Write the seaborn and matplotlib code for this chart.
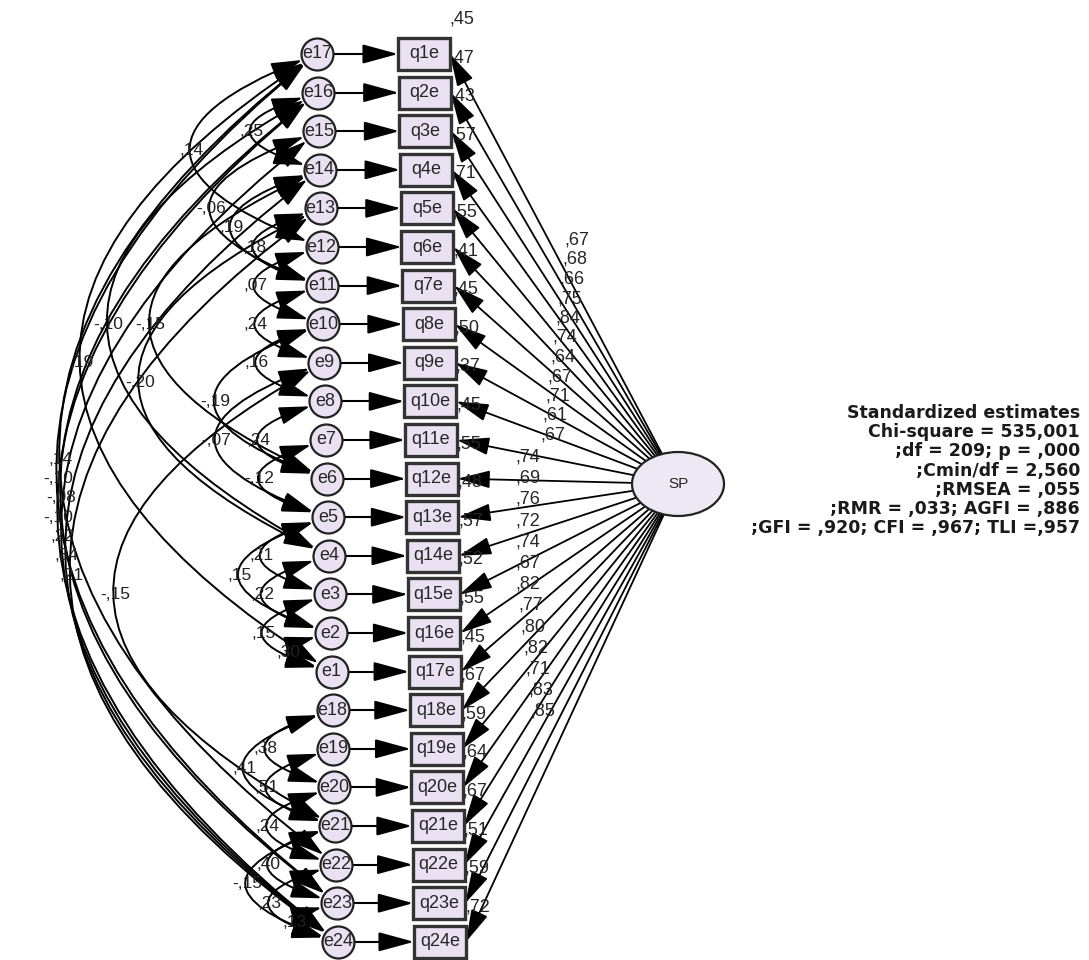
import numpy as np
import matplotlib
matplotlib.use("Agg")
import matplotlib.pyplot as plt
import seaborn as sns
import pandas as pd
from matplotlib.patches import FancyArrowPatch, Rectangle, Ellipse
from matplotlib.path import Path

# ---- data ----
err_names = ["e17", "e16", "e15", "e14", "e13", "e12", "e11", "e10", "e9", "e8", "e7", "e6",
             "e5", "e4", "e3", "e2", "e1", "e18", "e19", "e20", "e21", "e22", "e23", "e24"]
item_names = ["q1e", "q2e", "q3e", "q4e", "q5e", "q6e", "q7e", "q8e", "q9e", "q10e", "q11e", "q12e",
              "q13e", "q14e", "q15e", "q16e", "q17e", "q18e", "q19e", "q20e", "q21e", "q22e", "q23e", "q24e"]
loadings = [",67", ",68", ",66", ",75", ",84", ",74", ",64", ",67", ",71", ",61", ",67", ",74",
            ",69", ",76", ",72", ",74", ",67", ",82", ",77", ",80", ",82", ",71", ",83", ",85"]
r2_vals = [",45", ",47", ",43", ",57", ",71", ",55", ",41", ",45", ",50", ",37", ",45", ",55",
           ",48", ",57", ",52", ",55", ",45", ",67", ",59", ",64", ",67", ",51", ",59", ",72"]

cov_from = ["e16", "e17", "e15", "e14", "e13", "e12", "e11", "e10", "e10", "e9", "e8", "e7",
            "e5", "e5", "e4", "e3", "e2",
            "e16", "e14", "e17", "e13",
            "e18", "e18", "e19", "e20", "e21", "e21", "e22", "e23",
            "e17", "e17", "e16", "e16", "e15", "e14", "e13", "e9"]
cov_to = ["e14", "e12", "e11", "e11", "e11", "e10", "e9", "e8", "e6", "e5", "e6", "e5",
          "e3", "e2", "e2", "e1", "e1",
          "e4", "e6", "e1", "e4",
          "e20", "e21", "e21", "e22", "e23", "e24", "e24", "e24",
          "e22", "e23", "e23", "e24", "e24", "e24", "e24", "e21"]
cov_vals = [",25", ",14", "-,06", ",19", ",18", ",07", ",24", ",16", "-,19", "-,07", ",24", "-,12",
            ",21", ",15", ",22", ",15", ",30",
            "-,10", "-,15", ",19", "-,20",
            ",38", ",41", ",51", ",24", ",40", "-,15", ",23", ",13",
            ",14", "-,10", "-,08", "-,10", ",22", ",34", ",21", "-,15"]

fit_lines = ["Standardized estimates", "Chi-square = 535,001", ";df = 209; p = ,000",
             ";Cmin/df = 2,560", ";RMSEA = ,055", ";RMR = ,033; AGFI = ,886",
             ";GFI = ,920; CFI = ,967; TLI =,957"]

# ---- style ----
sns.set_theme(style="white")
plt.rcParams["font.family"] = ["Liberation Sans", "DejaVu Sans"]

W, H = 1089, 960
fig = plt.figure(figsize=(W / 100, H / 100), dpi=100)
ax = fig.add_axes([0, 0, 1, 1])

n = len(err_names)
row = np.arange(n)
ey = 54 + row * 38.6
ex = 317 + row * (21 / (n - 1))
r = 16
box_left = 398 + row * (16 / (n - 1))
box_w, box_h = 52, 32
sp_c = np.array([678.0, 484.0])
sp_a, sp_b = 46, 32

pos = {name: k for k, name in enumerate(err_names)}
fill = "#e9e1f1"
edge = "#222222"


def arrow_path(verts, codes, style, lw=1.3, z=2):
    p = FancyArrowPatch(path=Path(verts, codes), arrowstyle=style, mutation_scale=10,
                        color="black", lw=lw, zorder=z)
    ax.add_patch(p)


# covariances between error terms (curved, double headed)
for a, b, val in zip(cov_from, cov_to, cov_vals):
    k1, k2 = pos[a], pos[b]
    p1 = np.array([ex[k1], ey[k1]])
    p2 = np.array([ex[k2], ey[k2]])
    span = abs(p2[1] - p1[1])
    bulge = 280 * (1 - np.exp(-span / 380))
    ctrl = np.array([min(p1[0], p2[0]) - r - 2 * bulge, (p1[1] + p2[1]) / 2])
    u1 = (ctrl - p1) / np.linalg.norm(ctrl - p1)
    u2 = (ctrl - p2) / np.linalg.norm(ctrl - p2)
    s1 = p1 + r * u1
    s2 = p2 + r * u2
    arrow_path([s1, ctrl, s2], [Path.MOVETO, Path.CURVE3, Path.CURVE3],
               "<|-|>,head_length=1.9,head_width=0.55", lw=1.4, z=2)
    m = 0.25 * s1 + 0.5 * ctrl + 0.25 * s2
    ax.text(m[0], m[1], val, fontsize=12.5, ha="center", va="center", color="#222222", zorder=3)

# error -> item arrows
for k in range(n):
    arrow_path([(ex[k] + r, ey[k]), (box_left[k], ey[k])], [Path.MOVETO, Path.LINETO],
               "-|>,head_length=2.2,head_width=0.6", lw=1.5, z=4)

# SP -> item loadings
for k in range(n):
    tgt = np.array([box_left[k] + box_w, ey[k]])
    d = tgt - sp_c
    t = 1 / np.sqrt((d[0] / sp_a) ** 2 + (d[1] / sp_b) ** 2)
    start = sp_c + t * d
    arrow_path([start, tgt], [Path.MOVETO, Path.LINETO],
               "-|>,head_length=2.0,head_width=0.55", lw=1.3, z=4)

# error circles via seaborn
nodes = pd.DataFrame({"x": ex, "y": ey, "name": err_names})
sns.scatterplot(data=nodes, x="x", y="y", s=(2 * r * 0.72) ** 2, color=fill,
                edgecolor=edge, linewidth=1.6, zorder=5, ax=ax, legend=False)
ax.set_xlim(0, W)
ax.set_ylim(H, 0)
ax.axis("off")
for k in range(n):
    ax.text(ex[k], ey[k], err_names[k], fontsize=13, ha="center", va="center", zorder=6)

# observed item boxes
for k in range(n):
    ax.add_patch(Rectangle((box_left[k], ey[k] - box_h / 2), box_w, box_h, facecolor=fill,
                           edgecolor="#333333", lw=2.4, zorder=5))
    ax.text(box_left[k] + box_w / 2, ey[k], item_names[k], fontsize=13, ha="center",
            va="center", zorder=6)
    ax.text(box_left[k] + box_w - 1, ey[k] - 35, r2_vals[k], fontsize=13, ha="left",
            va="center", zorder=7)

# latent factor
ax.add_patch(Ellipse(sp_c, 2 * sp_a, 2 * sp_b, facecolor="#ece8f4", edgecolor=edge,
                     lw=1.6, zorder=5))
ax.text(sp_c[0], sp_c[1], "SP", fontsize=11, ha="center", va="center", zorder=6)

# loading labels
for k in range(n):
    if k < 11:
        lx, ly = 577 - k * 2.4, 240 + k * 19.5
    else:
        j = k - 11
        lx, ly = 528 + max(0, j - 6) * 2.5, 457 + j * 21.2
    ax.text(lx, ly, loadings[k], fontsize=13, ha="center", va="center", zorder=7)

# fit statistics
for i, line in enumerate(fit_lines):
    ax.text(1080, 413 + i * 19.2, line, fontsize=12.5, fontweight="bold",
            family=["DejaVu Sans"], ha="right", va="center", color="#1a1a1a")

fig.savefig("out.png", dpi=100)
